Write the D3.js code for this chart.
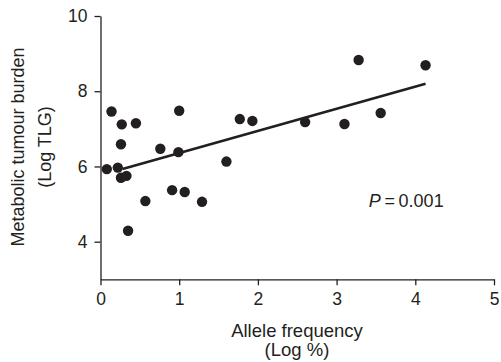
<!DOCTYPE html>
<html>
<head>
<meta charset="utf-8">
<script src="https://cdn.jsdelivr.net/npm/d3@7"></script>
<style>
  html, body { margin: 0; padding: 0; background: #fff; }
  svg { display: block; font-family: "Liberation Sans", Arial, Helvetica, sans-serif; }
  .axis path, .axis line { stroke: #231f20; stroke-width: 1.3; }
  .axis text { fill: #231f20; font-size: 17.5px; }
</style>
</head>
<body>
<svg id="chart" width="501" height="362"></svg>
<script>
'use strict';

// Allele frequency (Log %) and metabolic tumour burden (Log TLG)
const alleleFreq = [0.14, 0.27, 0.45, 0.26, 1.00, 0.76, 0.99, 0.08, 0.22, 0.26,
  0.33, 0.57, 0.91, 1.07, 1.29, 0.35, 1.77, 1.93, 2.60, 1.60, 3.28, 4.13, 3.56, 3.10];
const tumourBurden = [7.46, 7.12, 7.15, 6.59, 7.48, 6.47, 6.38, 5.93, 5.97, 5.70,
  5.75, 5.08, 5.37, 5.32, 5.06, 4.29, 7.26, 7.21, 7.18, 6.13, 8.83, 8.69, 7.42, 7.13];

// Regression line end points
const fitX = [0.28, 4.13];
const fitY = [5.93, 8.20];

const xTicks = [0, 1, 2, 3, 4, 5];
const yTicks = [4, 6, 8, 10];

const pLabel = { x: 3.41, y: 4.93 };

const svg = d3.select('#chart');

const x = d3.scaleLinear().domain([0, 5]).range([100.5, 494]);
const y = d3.scaleLinear().domain([3, 10]).range([279.3, 16]);

// Axes
svg.append('g')
  .attr('class', 'axis')
  .attr('transform', `translate(0,${y(3)})`)
  .call(d3.axisBottom(x).tickValues(xTicks).tickSize(6).tickSizeOuter(0).tickPadding(7).tickFormat(d3.format('d')));

svg.append('g')
  .attr('class', 'axis')
  .attr('transform', `translate(${x(0)},0)`)
  .call(d3.axisLeft(y).tickValues(yTicks).tickSize(6).tickSizeOuter(0).tickPadding(7).tickFormat(d3.format('d')));

// Regression line
svg.append('line')
  .attr('x1', x(fitX[0])).attr('y1', y(fitY[0]))
  .attr('x2', x(fitX[1])).attr('y2', y(fitY[1]))
  .attr('stroke', '#231f20')
  .attr('stroke-width', 2.6);

// Points
svg.append('g')
  .selectAll('circle')
  .data(d3.range(alleleFreq.length))
  .join('circle')
    .attr('cx', i => x(alleleFreq[i]))
    .attr('cy', i => y(tumourBurden[i]))
    .attr('r', 5.2)
    .attr('fill', '#231f20');

// P value
const pText = svg.append('text')
  .attr('x', x(pLabel.x))
  .attr('y', y(pLabel.y))
  .attr('font-size', 18)
  .attr('fill', '#231f20');
pText.append('tspan').attr('font-style', 'italic').text('P');
pText.append('tspan').text('\u2009=\u20090.001');

// Axis titles
const xTitle = svg.append('text')
  .attr('text-anchor', 'middle')
  .attr('font-size', 18.5)
  .attr('fill', '#231f20');
xTitle.append('tspan').attr('x', 297).attr('y', 336.5).text('Allele frequency');
xTitle.append('tspan').attr('x', 297).attr('y', 356).text('(Log %)');

const yTitle = svg.append('text')
  .attr('text-anchor', 'middle')
  .attr('font-size', 18)
  .attr('fill', '#231f20')
  .attr('transform', 'translate(0,147) rotate(-90)');
yTitle.append('tspan').attr('x', 0).attr('y', 23.5).text('Metabolic tumour burden');
yTitle.append('tspan').attr('x', 0).attr('y', 51).text('(Log TLG)');
</script>
</body>
</html>
